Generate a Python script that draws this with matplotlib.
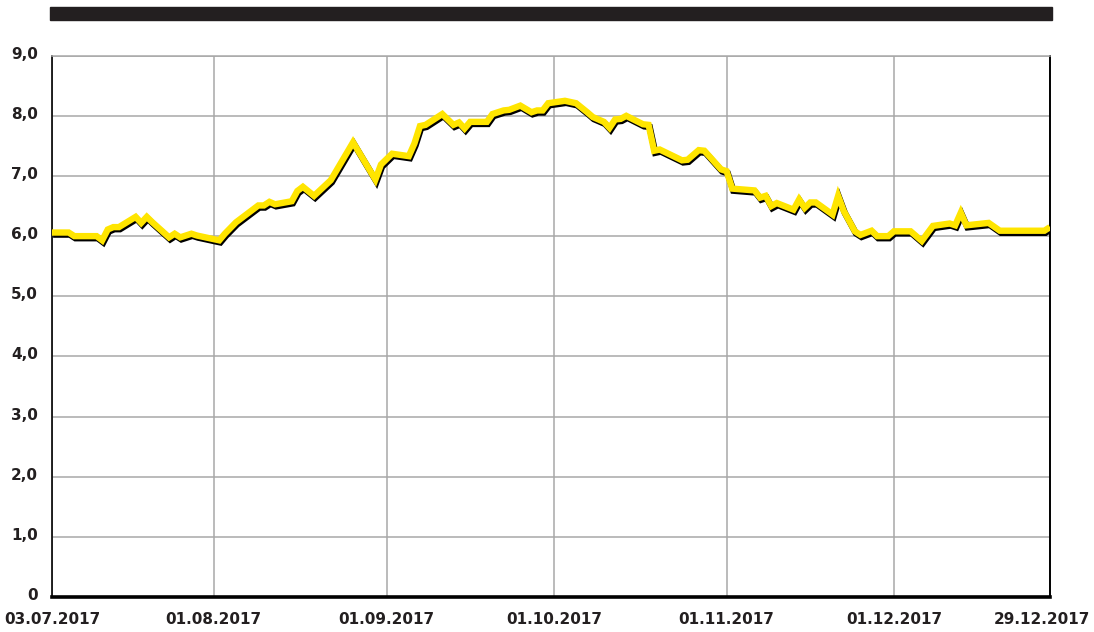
import matplotlib
matplotlib.use("Agg")
import matplotlib.pyplot as plt
import matplotlib.patheffects as pe
from matplotlib.patches import Rectangle
from matplotlib.transforms import ScaledTranslation
import datetime as dt

YEAR = 2017
dates = ["03.07", "06.07", "07.07", "11.07", "12.07", "13.07", "14.07", "15.07", "18.07", "19.07",
         "20.07", "21.07", "24.07", "25.07", "26.07", "28.07", "29.07", "31.07", "02.08", "03.08",
         "05.08", "07.08", "09.08", "10.08", "11.08", "12.08", "15.08", "16.08", "17.08", "19.08",
         "22.08", "26.08", "30.08", "31.08", "02.09", "05.09", "06.09", "07.09", "08.09", "11.09",
         "13.09", "14.09", "15.09", "16.09", "19.09", "20.09", "22.09", "23.09", "25.09", "27.09",
         "28.09", "29.09", "30.09", "03.10", "05.10", "07.10", "08.10", "10.10", "11.10", "12.10",
         "13.10", "14.10", "17.10", "18.10", "19.10", "20.10", "24.10", "25.10", "27.10", "28.10",
         "31.10", "01.11", "02.11", "06.11", "07.11", "08.11", "09.11", "10.11", "13.11", "14.11",
         "15.11", "16.11", "17.11", "20.11", "21.11", "22.11", "24.11", "25.11", "27.11", "28.11",
         "30.11", "01.12", "04.12", "06.12", "08.12", "11.12", "12.12", "13.12", "14.12", "17.12",
         "18.12", "20.12", "28.12", "29.12"]
values = [6.06, 6.06, 6.00, 6.00, 5.93, 6.11, 6.15, 6.15, 6.32, 6.22,
          6.32, 6.23, 5.98, 6.04, 5.98, 6.04, 6.01, 5.97, 5.93, 6.04,
          6.23, 6.37, 6.51, 6.51, 6.57, 6.53, 6.58, 6.75, 6.82, 6.67,
          6.93, 7.56, 6.94, 7.19, 7.37, 7.33, 7.54, 7.83, 7.85, 8.03,
          7.85, 7.89, 7.79, 7.90, 7.90, 8.03, 8.09, 8.10, 8.17, 8.06,
          8.09, 8.09, 8.21, 8.25, 8.21, 8.06, 7.98, 7.90, 7.80, 7.94,
          7.95, 8.00, 7.86, 7.85, 7.42, 7.44, 7.26, 7.27, 7.43, 7.42,
          7.11, 7.08, 6.79, 6.76, 6.64, 6.67, 6.50, 6.55, 6.44, 6.61,
          6.47, 6.56, 6.56, 6.36, 6.67, 6.42, 6.08, 6.02, 6.09, 6.00,
          6.00, 6.08, 6.08, 5.92, 6.17, 6.21, 6.18, 6.39, 6.18, 6.21,
          6.22, 6.09, 6.09, 6.15]
tick_dates = ["03.07.2017", "01.08.2017", "01.09.2017", "01.10.2017",
              "01.11.2017", "01.12.2017", "29.12.2017"]
y_ticks = [0, 1, 2, 3, 4, 5, 6, 7, 8, 9]
y_labels = ["0", "1,0", "2,0", "3,0", "4,0", "5,0", "6,0", "7,0", "8,0", "9,0"]


def parse(s):
    d, m = s.split(".")[:2]
    return dt.date(YEAR, int(m), int(d))


x = [parse(s) for s in dates]
tx = [parse(s) for s in tick_dates]

fig = plt.figure(figsize=(10.94, 6.32), dpi=100)
ax = fig.add_axes([52 / 1094, 35 / 632, (1050 - 52) / 1094, (597 - 55.7) / 632])

# top bar
fig.patches.append(Rectangle((49.5 / 1094, 1 - 20 / 632), (1052 - 49.5) / 1094, 13 / 632,
                             transform=fig.transFigure, color="#231f20", zorder=5))

ax.plot(x, values, color="#ffe500", lw=4.6, solid_joinstyle="miter", solid_capstyle="butt",
        zorder=4,
        path_effects=[pe.SimpleLineShadow(offset=(0.8, -1.5), shadow_color="black", alpha=1.0),
                      pe.Normal()])

ax.set_xlim(tx[0], tx[-1])
ax.set_ylim(0, 9)
ax.set_xticks(tx)
ax.set_xticklabels(tick_dates)
ax.set_yticks(y_ticks)
ax.set_yticklabels(y_labels)
ax.grid(True, color="#a8a8a8", lw=1.1)
ax.set_axisbelow(True)
ax.tick_params(length=0, labelsize=11, colors="#231f20")
ax.tick_params(axis="x", pad=11)
ax.tick_params(axis="y", pad=10)
for lab in ax.get_xticklabels() + ax.get_yticklabels():
    lab.set_fontweight("bold")
    lab.set_family("DejaVu Sans")
for lab in ax.get_yticklabels():
    lab.set_transform(lab.get_transform() + ScaledTranslation(0, 3 / 100, fig.dpi_scale_trans))
last = ax.get_xticklabels()[-1]
last.set_transform(last.get_transform() + ScaledTranslation(-8 / 100, 0, fig.dpi_scale_trans))

ax.spines["top"].set_color("#a8a8a8")
ax.spines["top"].set_linewidth(1.1)
ax.spines["left"].set_color("black")
ax.spines["left"].set_linewidth(1.2)
ax.spines["right"].set_color("black")
ax.spines["right"].set_linewidth(1.4)
ax.spines["bottom"].set_color("black")
ax.spines["bottom"].set_linewidth(2.6)

fig.savefig("out.png", dpi=100)
